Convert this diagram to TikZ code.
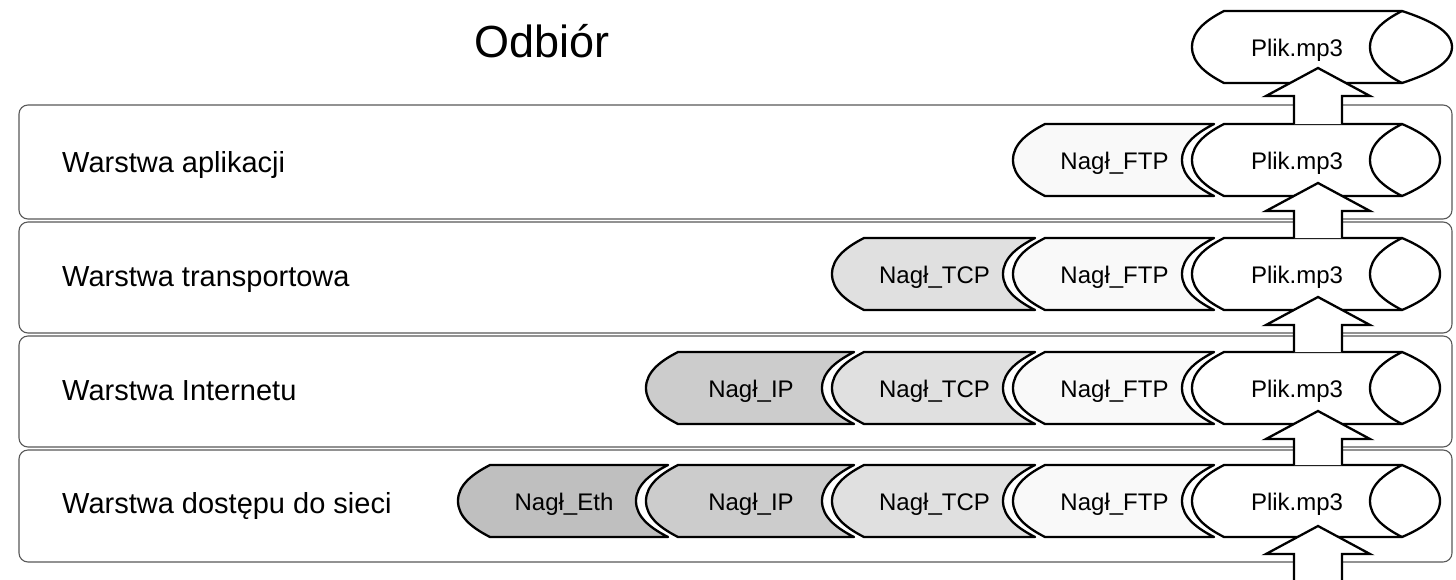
\documentclass[tikz,border=0pt]{standalone}
\usepackage{fontspec}
\setmainfont{Liberation Sans}
\definecolor{ethgray}{gray}{0.75}
\definecolor{ipgray}{gray}{0.80}
\definecolor{tcpgray}{gray}{0.88}
\definecolor{ftpgray}{gray}{0.975}
\tikzset{
  layerbox/.style={draw=black!65, line width=1.1pt, rounded corners=9pt, fill=white},
  segline/.style={draw=black, line width=2.3pt, line join=round},
  hdr/.style={font=\fontsize{24}{28}\selectfont, anchor=base, inner sep=0pt},
  lbl/.style={font=\fontsize{29}{34}\selectfont, anchor=base west, inner sep=0pt},
  blk/.style={draw=black, line width=2.3pt, line join=miter},
}
% header segment: #1 left corner x, #2 right corner x, #3 centre y, #4 fill, #5 name, #6 text
\newcommand\HSeg[6]{%
  \path[segline, fill=#4] (#1,#3-36) -- (#2,#3-36)
    .. controls (#2-17.6,#3-27) and (#2-32,#3-16) .. (#2-32,#3)
    .. controls (#2-32,#3+16) and (#2-17.6,#3+27) .. (#2,#3+36)
    -- (#1,#3+36)
    .. controls (#1-17.6,#3+27) and (#1-32,#3+16) .. (#1-32,#3)
    .. controls (#1-32,#3-16) and (#1-17.6,#3-27) .. cycle;
  \node[hdr] (#5) at ({(#1+#2)/2-15},#3+9) {#6};
}
% payload segment: #1 left x, #2 right corner x, #3 centre y, #4 outer bulge, #5 name
\newcommand\PSeg[5]{%
  \path[segline, fill=white] (#1,#3-36) -- (#2,#3-36)
    .. controls (#2+0.55*#4,#3-27) and (#2+#4,#3-16) .. (#2+#4,#3)
    .. controls (#2+#4,#3+16) and (#2+0.55*#4,#3+27) .. (#2,#3+36)
    -- (#1,#3+36)
    .. controls (#1-17.6,#3+27) and (#1-32,#3+16) .. (#1-32,#3)
    .. controls (#1-32,#3-16) and (#1-17.6,#3-27) .. cycle;
  \draw[segline] (#2,#3-36)
    .. controls (#2-17.6,#3-27) and (#2-32,#3-16) .. (#2-32,#3)
    .. controls (#2-32,#3+16) and (#2-17.6,#3+27) .. (#2,#3+36);
  \node[hdr] (#5) at ({(#1+#2)/2-16},#3+9) {Plik.mp3};
}
% block arrow: #1 name, #2 centre x, #3 tip y, #4 bottom y
\newcommand\BArrow[4]{%
  \fill[white] (#2-24,#4) -- (#2-24,#3+28) -- (#2-52,#3+28) -- (#2,#3)
    -- (#2+52,#3+28) -- (#2+24,#3+28) -- (#2+24,#4) -- cycle;
  \draw[blk] (#2-24,#4) -- (#2-24,#3+28) -- (#2-52,#3+28) -- (#2,#3)
    -- (#2+52,#3+28) -- (#2+24,#3+28) -- (#2+24,#4);
  \coordinate (#1) at (#2,#3);
}
\begin{document}
\begin{tikzpicture}[x=1pt,y=-1pt]
\useasboundingbox (0,0) rectangle (1456,579);
\fill[white] (0,0) rectangle (1456,579);

% layer boxes
\path[layerbox] (19,105) rectangle (1452,219);
\path[layerbox] (19,222) rectangle (1452,333);
\path[layerbox] (19,336) rectangle (1452,447);
\path[layerbox] (19,450) rectangle (1452,562);

\node[lbl] (l1) at (62,172) {Warstwa aplikacji};
\node[lbl] (l2) at (62,286) {Warstwa transportowa};
\node[lbl] (l3) at (62,400) {Warstwa Internetu};
\node[lbl] (l4) at (62,513) {Warstwa dostępu do sieci};

\node[font=\fontsize{45}{52}\selectfont, anchor=base, inner sep=0pt] (title) at (542,57) {Odbiór};

% top capsule
\PSeg{1224}{1402}{47}{50}{p0}

% row 1
\HSeg{1045}{1214}{160}{ftpgray}{f1}{Nagł\_FTP}
\PSeg{1224}{1402}{160}{38}{p1}

% row 2
\HSeg{864}{1035}{274}{tcpgray}{t2}{Nagł\_TCP}
\HSeg{1045}{1214}{274}{ftpgray}{f2}{Nagł\_FTP}
\PSeg{1224}{1402}{274}{38}{p2}

% row 3
\HSeg{678}{854}{388}{ipgray}{i3}{Nagł\_IP}
\HSeg{864}{1035}{388}{tcpgray}{t3}{Nagł\_TCP}
\HSeg{1045}{1214}{388}{ftpgray}{f3}{Nagł\_FTP}
\PSeg{1224}{1402}{388}{38}{p3}

% row 4
\HSeg{490}{668}{501}{ethgray}{e4}{Nagł\_Eth}
\HSeg{678}{854}{501}{ipgray}{i4}{Nagł\_IP}
\HSeg{864}{1035}{501}{tcpgray}{t4}{Nagł\_TCP}
\HSeg{1045}{1214}{501}{ftpgray}{f4}{Nagł\_FTP}
\PSeg{1224}{1402}{501}{38}{p4}

% block arrows
\BArrow{a1}{1318}{68}{124}
\BArrow{a2}{1318}{183}{238}
\BArrow{a3}{1318}{297}{352}
\BArrow{a4}{1318}{411}{465}
\BArrow{a5}{1318}{526}{580}
\end{tikzpicture}
\end{document}
